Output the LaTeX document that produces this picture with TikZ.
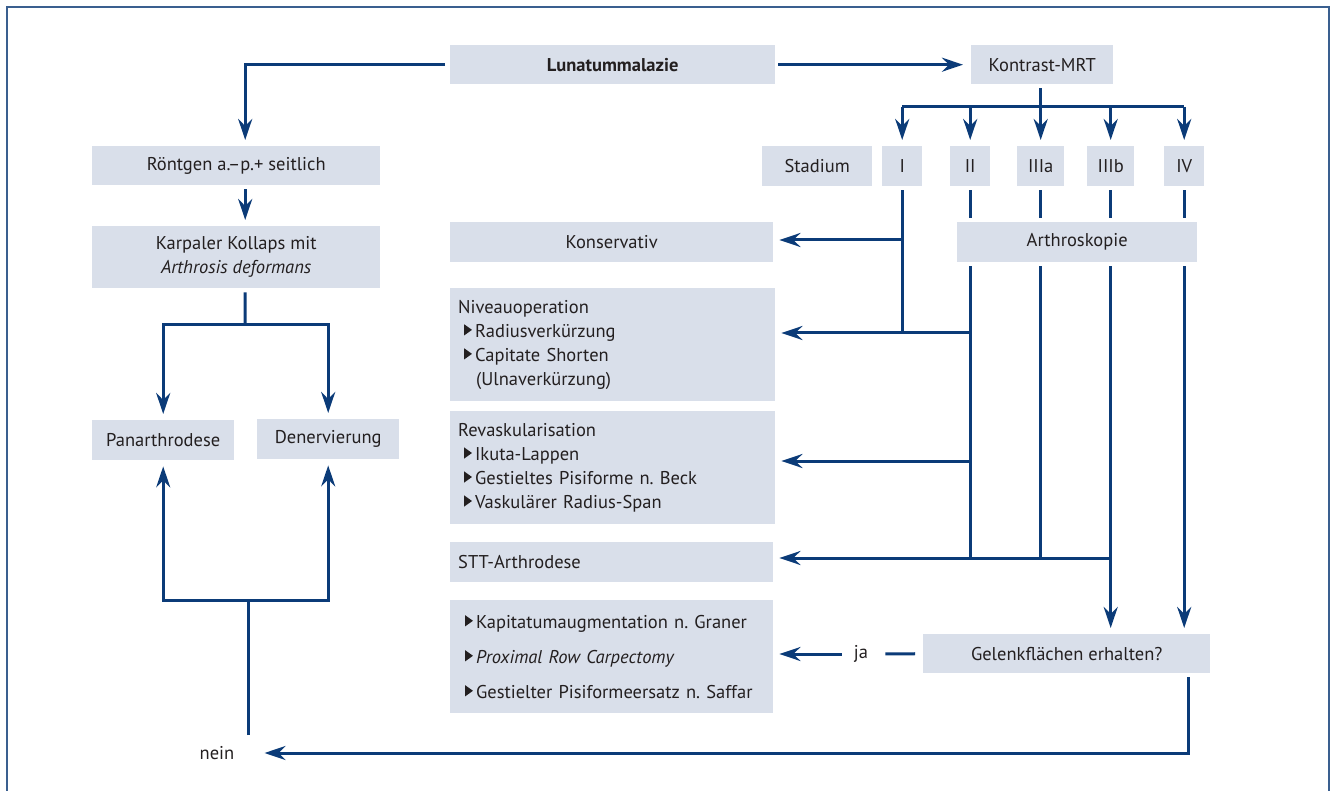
\documentclass[tikz,border=0pt]{standalone}
\usepackage{fontspec}
\setmainfont{PT Sans}
\usetikzlibrary{arrows.meta}
\frenchspacing

\definecolor{boxfill}{HTML}{D9DFEA}
\definecolor{flow}{HTML}{0B3B78}
\definecolor{ink}{HTML}{231F20}
\definecolor{framecol}{HTML}{3A5F8F}

% small triangle bullet
\newcommand{\bul}{\tikz[baseline=0pt]\fill[ink] (0,0.1em) -- (0,0.7em) -- (0.42em,0.4em) -- cycle;\,}

\tikzset{
  box/.style={fill=boxfill, text=ink, inner sep=0pt, anchor=north west, align=center,
    font=\fontsize{18.5}{24}\selectfont},
  listbox/.style={box, align=left, inner xsep=8pt, text width=309pt},
  flowline/.style={draw=flow, line width=3pt},
  flowarrow/.style={flowline, -{Stealth[length=21pt,width=14pt,inset=7pt]}, shorten >=6pt},
}

\begin{document}
\begin{tikzpicture}[x=1pt,y=-1pt]
  \useasboundingbox (0,0) rectangle (1335,791);
  \draw[framecol, line width=1.6pt] (7,7) rectangle (1329,830);

  % left column
  \node[box, minimum width=325pt, minimum height=39pt] (luna) at (450,45) {\textbf{Lunatummalazie}};
  \node[box, minimum width=142pt, minimum height=39pt] (mrt) at (971,45) {Kontrast-MRT};
  \node[box, minimum width=288pt, minimum height=39pt] (roent) at (92,146) {Röntgen a.–p.+ seitlich};
  \node[box, minimum width=288pt, minimum height=62pt] (karp) at (92,226) {Karpaler Kollaps mit\\\textit{Arthrosis deformans}};
  \node[box, minimum width=142pt, minimum height=40pt] (pan) at (92,420) {Panarthrodese};
  \node[box, minimum width=142pt, minimum height=40pt] (den) at (257,419) {Denervierung};

  % stages
  \node[box, minimum width=110pt, minimum height=40pt] (stad) at (762,146) {Stadium};
  \node[box, minimum width=40pt, minimum height=40pt] (sI) at (882,146) {I};
  \node[box, minimum width=40pt, minimum height=40pt] (sII) at (950,146) {II};
  \node[box, minimum width=47pt, minimum height=40pt] (sIIIa) at (1017,146) {IIIa};
  \node[box, minimum width=47pt, minimum height=40pt] (sIIIb) at (1087,146) {IIIb};
  \node[box, minimum width=40pt, minimum height=40pt] (sIV) at (1164,146) {IV};

  % therapy
  \node[box, minimum width=323pt, minimum height=40pt] (kons) at (450,222) {Konservativ};
  \node[box, minimum width=240pt, minimum height=40pt] (arth) at (957,222) {Arthroskopie};
  \node[listbox, minimum height=113pt] (niv) at (450,288) {Niveauoperation\\
    \hspace*{6pt}\bul Radiusverkürzung\\
    \hspace*{6pt}\bul Capitate Shorten\\
    \hspace*{18pt}(Ulnaverkürzung)};
  \node[listbox, minimum height=113pt] (rev) at (450,411) {Revaskularisation\\
    \hspace*{6pt}\bul Ikuta-Lappen\\
    \hspace*{6pt}\bul Gestieltes Pisiforme n. Beck\\
    \hspace*{6pt}\bul Vaskulärer Radius-Span};
  \node[listbox, text width=307pt, minimum height=40pt] (stt) at (450,542) {STT-Arthrodese};
  \node[listbox, text width=307pt, minimum height=113pt] (salv) at (450,600) {%
    \hspace*{7pt}\bul Kapitatumaugmentation n. Graner\\[11pt]
    \hspace*{7pt}\bul \textit{Proximal Row Carpectomy}\\[11pt]
    \hspace*{7pt}\bul Gestielter Pisiformeersatz n. Saffar};
  \node[box, minimum width=287pt, minimum height=39pt] (gel) at (923,634) {Gelenkflächen erhalten?};
  \node[box, fill=none, anchor=center] (ja) at (861,654) {ja};
  \node[box, fill=none, anchor=center] (nein) at (217,753) {nein};

  \coordinate (mfork) at (1040,107);
  \coordinate (kfork) at (245,325);
  \coordinate (bstart) at (248,735);
  \coordinate (bfork) at (248,600);
  \coordinate (rowkons) at (0,240);
  \coordinate (rowniv) at (0,333);
  \coordinate (rowrev) at (0,461);
  \coordinate (rowstt) at (0,558);

  % top
  \draw[flowarrow, shorten <=5pt] (luna.west) -| ([xshift=9pt]roent.north);
  \draw[flowarrow, shorten <=3pt, shorten >=8pt] (luna.east) -- (mrt.west);
  \draw[flowline, shorten <=4pt] (mrt.south -| mfork) -- (mfork);
  \draw[flowline] (sI.north |- mfork) -- (sIV.north |- mfork);
  \foreach \s in {sI,sII,sIIIa,sIIIb,sIV}
    \draw[flowarrow] (\s.north |- mfork) -- (\s.north);

  % left column
  \draw[flowarrow, shorten <=4pt] ([xshift=9pt]roent.south) -- ([xshift=9pt]karp.north);
  \draw[flowline, shorten <=4pt] ([xshift=9pt]karp.south) -- (kfork);
  \draw[flowarrow] (kfork) -| (pan.north);
  \draw[flowarrow] (kfork) -| (den.north);
  \draw[flowline] (bstart) -- (bfork);
  \draw[flowarrow] (bfork) -| (pan.south);
  \draw[flowarrow] (bfork) -| (den.south);

  % stages to therapy
  \draw[flowline, shorten <=4pt] (sI.south) -- (sI.south |- rowniv);
  \foreach \s in {sII,sIIIa,sIIIb,sIV}
    \draw[flowline, shorten <=4pt, shorten >=4pt] (\s.south) -- (\s.south |- arth.north);
  \draw[flowarrow] (sI.south |- rowkons) -- (kons.east |- rowkons);
  \draw[flowline, shorten <=4pt] (sII.south |- arth.south) -- (sII.south |- rowstt);
  \draw[flowline, shorten <=4pt] (sIIIa.south |- arth.south) -- (sIIIa.south |- rowstt);
  \draw[flowarrow, shorten <=4pt] (sIIIb.south |- arth.south) -- (sIIIb.south |- gel.north);
  \draw[flowarrow, shorten <=4pt] (sIV.south |- arth.south) -- (sIV.south |- gel.north);
  \draw[flowarrow] (sII.south |- rowniv) -- (niv.east |- rowniv);
  \draw[flowarrow] (sII.south |- rowrev) -- (rev.east |- rowrev);
  \draw[flowarrow] (sIIIb.south |- rowstt) -- (stt.east |- rowstt);

  % decision
  \draw[flowline, shorten <=8pt, shorten >=17pt] (gel.west) -- (ja.east);
  \draw[flowarrow, shorten <=12pt] (ja.west) -- (salv.east |- ja);
  \draw[flowarrow, shorten <=4pt, shorten >=30pt] ([xshift=-22pt]gel.south east) |- (nein.east);
\end{tikzpicture}
\end{document}
